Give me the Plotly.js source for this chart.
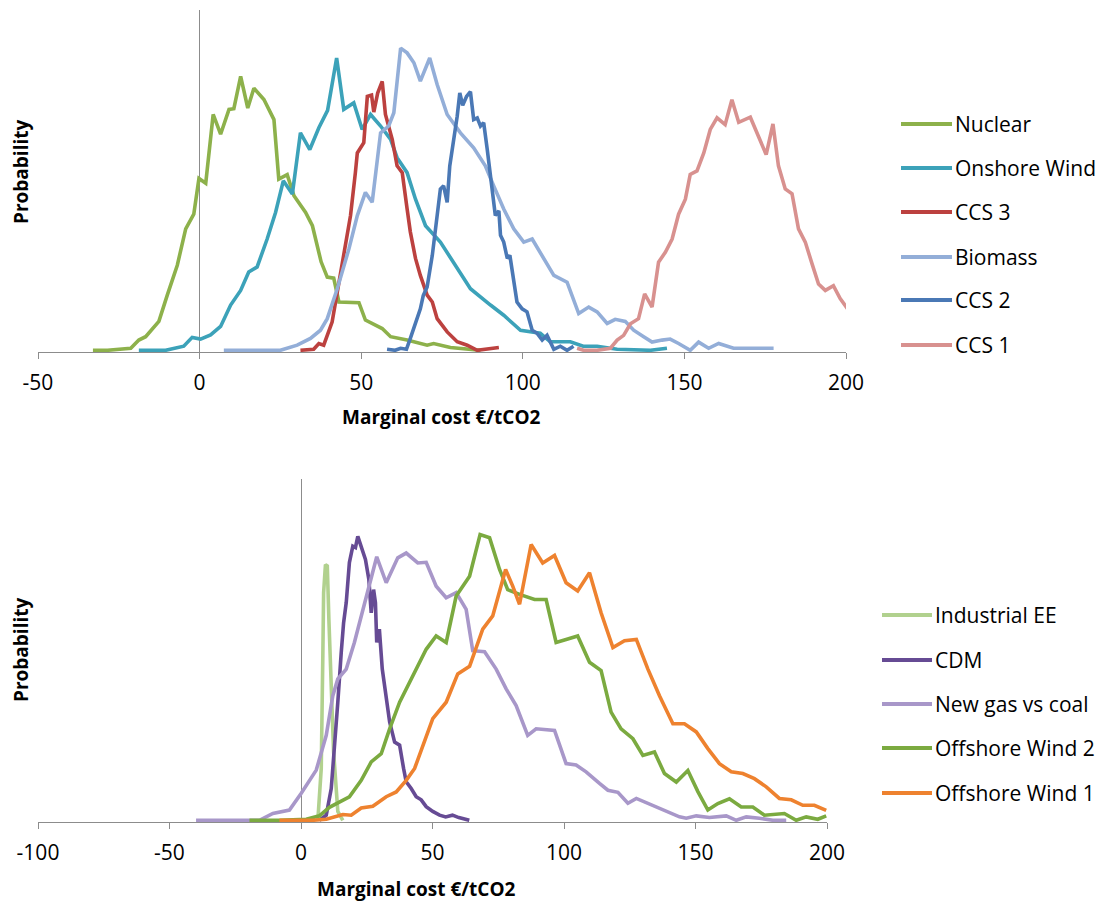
<!DOCTYPE html>
<html>
<head>
<meta charset="utf-8">
<script src="https://cdn.plot.ly/plotly-3.0.1.min.js"></script>
<style>html,body{margin:0;padding:0;background:#fff;}#chart{width:1102px;height:901px;}</style>
</head>
<body>
<div id="chart"></div>
<script>
// ---------- Top panel data (x = marginal cost €/tCO2, y = relative probability) ----------
const nuclearX = [-33,-28.5,-21.3,-18.8,-16.7,-12.6,-10,-6.9,-4.3,-1.8,-0.2,1.9,4.2,6.5,9.1,10.6,12.7,14.9,16.8,19.9,23,24.5,27.1,29.2,32.8,34.9,37.6,39.5,41.5,43.1,49.3,51.3,56.5,59.1,64.2,70.4,72.4,77.6,86.9];
const nuclearY = [0,0,0.06,0.3,0.4,0.85,1.62,2.5,3.57,4.0,5.05,4.91,6.93,6.35,7.08,7.1,8.05,7.12,7.7,7.37,6.78,5.03,5.16,4.54,4.05,3.66,2.6,2.15,2.12,1.42,1.4,0.89,0.64,0.4,0.3,0.15,0.2,0.08,0];

const onshoreX = [-18.8,-10.5,-4.9,-2.3,0.3,3.4,6.5,9.6,12.7,15.2,17.8,20.9,23.5,25.9,28.7,31.2,34.1,36.9,39.6,42.4,44.6,47.7,50.3,52.9,56,59.1,61.1,64.2,66.8,69.9,74.5,78.6,83.8,90,94.1,99.3,105.4,108.5,111.6,114.7,118.7,123,129.2,139.5,144.6];
const onshoreY = [0,0,0.12,0.38,0.33,0.45,0.7,1.33,1.76,2.3,2.45,3.27,4.05,4.98,4.59,6.39,5.9,6.54,7.05,8.59,7.08,7.27,6.49,6.93,6.59,6.2,5.66,5.22,4.44,3.66,3.18,2.59,1.81,1.33,1.03,0.59,0.5,0.25,0.25,0.25,0.12,0.12,0.03,0,0.06];

const ccs3X = [31.2,35.3,36.9,38.4,39.5,41,42.6,44.6,46.7,48.2,48.8,50.8,51.9,53.2,53.9,55.1,56.5,57.5,59.6,61.1,62.7,64.2,65.2,66.8,68.3,70.4,72,73.5,76.6,79.7,82.8,85.9,89,92.6];
const ccs3Y = [0,0.03,0.2,0.15,0.44,0.83,1.71,2.79,3.96,5.22,5.8,6.1,7.46,7.5,7.0,7.56,7.9,6.93,6.2,5.42,5.22,4.16,3.48,2.7,2.2,1.62,1.42,0.93,0.54,0.25,0.15,0,0.03,0.08];

const biomassX = [7.5,25,30.2,34.3,37.4,39.5,42.6,46.2,48.8,51.3,53.4,56,58.5,60.1,62.2,64.2,66.3,68.3,71.2,73.5,76.6,80.7,84.8,88.4,91,94.1,97.2,100.3,102.9,106.5,109.6,113.7,117.3,120.4,123,126.1,128.6,131.7,134.3,137.4,140,143.1,145.6,148.2,151.8,154.4,157.5,160.6,165.2,177.6];
const biomassY = [0,0,0.15,0.35,0.59,0.93,1.81,2.98,3.96,4.64,4.35,6.39,6.59,6.98,8.88,8.74,8.45,7.91,8.59,7.81,6.93,6.39,5.95,5.42,4.83,4.15,3.57,3.18,3.27,2.69,2.2,2.0,1.08,1.27,1.13,0.79,0.91,0.85,0.59,0.4,0.24,0.3,0.33,0.2,0,0.24,0.06,0.2,0.06,0.06];

const ccs2X = [58,60.5,62.2,64,65.2,66.8,68.3,69.2,70.4,72,73.5,74.5,75.5,76.6,77.4,78.6,79.7,80.5,81.4,82.6,83.8,84.8,85.9,86.9,87.9,89,90.5,91.5,92.6,93.1,94.1,95.2,96,97.2,98.2,99.8,101.3,102.9,104.4,106,107.5,109.6,111.6,113.7,115.7];
const ccs2Y = [0.03,0,0.06,0.03,0.35,0.79,1.22,1.61,1.86,2.79,3.96,4.74,4.83,4.35,5.42,6.1,6.88,7.56,7.2,7.46,7.6,6.78,6.83,6.59,6.69,5.9,4.74,3.96,4.1,3.38,3.18,2.7,2.79,2.0,1.42,1.22,1.13,0.59,0.5,0.3,0.44,0.03,0.12,0,0.12];

const ccs1X = [116.8,118.8,123,127.1,129.2,131.2,133.3,135.8,137.7,140,142,144.1,146.2,148.2,150.3,151.8,153.9,156,158,160.1,162.6,164.7,166.8,170.4,172.9,175.3,177.4,179.1,181.2,183.3,185.3,187.4,189.5,191.5,193.6,196.1,198.2,200.8];
const ccs1Y = [0.06,0,0,0.06,0.3,0.44,0.78,0.93,1.66,1.27,2.59,2.88,3.27,4.0,4.44,5.17,5.27,5.8,6.49,6.83,6.63,7.36,6.7,6.85,6.29,5.75,6.65,5.42,4.74,4.6,3.57,3.18,2.54,1.95,1.76,1.9,1.52,1.18];

// ---------- Bottom panel data ----------
const indEEX = [6.4,7.7,8.3,8.6,9.3,10,10.6,11.5,12.4,14,15.9];
const indEEY = [0,1.52,4.82,6.67,7.49,7.45,5.89,4.24,2.0,0.26,0];

const cdmX = [7,9.6,11.5,12.7,14,15.3,16.2,17.2,18.4,19.7,20.7,21.6,22.9,24.5,25.8,26.7,27.6,28.3,28.8,29.8,30.9,32.4,33.7,35.6,37.5,39,40,41.9,43.8,45.7,47.6,50.1,52.7,55,57.6,60,64];
const cdmY = [0,0.15,0.93,2.0,3.46,4.92,5.79,6.38,7.55,8.03,7.99,8.32,7.99,7.64,7.06,6.08,6.76,6.38,5.21,5.6,4.43,3.65,2.88,2.29,2.2,1.52,1.13,0.93,0.69,0.6,0.4,0.26,0.15,0.1,0.15,0.08,0];

const newGasX = [-39.9,-15.8,-10.7,-4.4,0.1,5.8,9.6,12.1,14,17.2,20.3,23.5,26.3,28.8,32.4,36.8,40,44.4,47.6,51.4,55.2,59,62.8,65.3,69.8,74.2,78,81.8,86.2,89.4,96.4,100.8,104.6,108.4,113.5,116.7,120.5,124.3,127.5,133.8,139.5,143.9,146.5,150.3,155.3,161.7,165.5,169.3,174.3,179.4,184.5];
const newGasY = [0,0,0.2,0.3,0.79,1.47,2.49,3.65,4.14,4.43,5.21,6.18,7.06,7.72,6.96,7.69,7.83,7.54,7.56,6.86,6.52,6.67,6.18,4.97,4.94,4.43,3.85,3.36,2.49,2.68,2.63,1.66,1.62,1.42,1.08,0.88,0.82,0.5,0.64,0.44,0.26,0.1,0.06,0.13,0.08,0.13,0,0.1,0.06,0,0];

const ow2X = [-19.6,-8.2,2,7,10.8,14.6,18.4,22.9,26.7,30.5,33.7,37.5,42.5,47.6,51.4,55.2,59,64.1,68.1,71.7,75.5,78.6,83.1,88.8,93.2,97,100.8,105.2,109.7,114.1,117.9,121.7,126.2,130,134.4,138.2,142.7,147.1,150.9,154.7,158.5,162.9,167.4,171.8,176.2,183.8,188.3,192.1,196.5,199.7];
const ow2Y = [0,0,0.03,0.13,0.38,0.55,0.69,1.17,1.71,1.95,2.68,3.46,4.24,5.01,5.4,5.21,6.57,7.15,8.37,8.28,7.35,6.76,6.62,6.47,6.47,5.21,5.3,5.4,4.63,4.39,3.17,2.68,2.39,1.9,2.0,1.37,1.12,1.46,0.84,0.3,0.49,0.63,0.39,0.39,0.15,0.2,0,0.1,0.03,0.13];

const ow1X = [-8.2,4.5,9.6,13.4,15.9,19.1,22.9,27.3,32.4,36.2,40,43.2,46.3,50.1,55.2,59.6,64.1,69.1,72.9,77.8,80.5,83.1,87.5,91.9,96.4,100.8,105.2,109.7,114.1,118.6,123,127.5,131.9,136.3,141.4,145.8,150.3,154.7,159.1,163.6,168,172.4,176.9,181.9,186.4,190.8,195.2,199.7];
const ow1Y = [0,0,0.03,0.13,0.17,0.15,0.36,0.41,0.69,0.83,1.17,1.52,2.2,2.98,3.46,4.29,4.51,5.6,5.99,7.35,6.86,6.33,8.08,7.54,7.76,6.96,6.72,7.25,6.08,5.06,5.26,5.3,4.43,3.65,2.83,2.83,2.59,2.1,1.66,1.42,1.37,1.22,0.98,0.64,0.6,0.44,0.44,0.29];

// ---------- Names / ticks ----------
const topNames = ["Nuclear","Onshore Wind","CCS 3","Biomass","CCS 2","CCS 1"];
const bottomNames = ["Industrial EE","CDM","New gas vs coal","Offshore Wind 2","Offshore Wind 1"];
const topTicks = [-50,0,50,100,150,200];
const bottomTicks = [-100,-50,0,50,100,150,200];
const xTitleText = "Marginal cost €/tCO2";
const yTitleText = "Probability";

// ---------- Styling ----------
const topColors = ["#8DB14B","#3CA2B9","#BC413F","#93AED8","#4A78B5","#D8918F"];
const bottomColors = ["#B1D18E","#664B94","#A897C9","#7BAA40","#EE822F"];
const FONT = "'Open Sans', Lato, 'Liberation Sans', sans-serif";
const W = 1102, H = 901;
const LW = 3.6;

const topData = [[nuclearX,nuclearY],[onshoreX,onshoreY],[ccs3X,ccs3Y],[biomassX,biomassY],[ccs2X,ccs2Y],[ccs1X,ccs1Y]];
const bottomData = [[indEEX,indEEY],[cdmX,cdmY],[newGasX,newGasY],[ow2X,ow2Y],[ow1X,ow1Y]];

const traces = [];
topData.forEach((d,i)=>traces.push({x:d[0],y:d[1],type:'scatter',mode:'lines',name:topNames[i],
  line:{color:topColors[i],width:LW},xaxis:'x',yaxis:'y',showlegend:false,hoverinfo:'x+name'}));
bottomData.forEach((d,i)=>traces.push({x:d[0],y:d[1],type:'scatter',mode:'lines',name:bottomNames[i],
  line:{color:bottomColors[i],width:LW},xaxis:'x2',yaxis:'y2',showlegend:false,hoverinfo:'x+name'}));

const px = v => v / W;
const py = v => 1 - v / H;

const axisColor = '#8C8C8C';
function xAxis(domain, range, ticks, anchor){
  return {domain:domain, range:range, anchor:anchor, tickvals:ticks, ticktext:ticks.map(String),
    showgrid:false, showline:true, linecolor:axisColor, linewidth:1,
    ticks:'outside', ticklen:6, tickcolor:axisColor, tickwidth:1,
    zeroline:true, zerolinecolor:axisColor, zerolinewidth:1,
    tickfont:{family:FONT,size:21,color:'#000'}, ticklabelstandoff:6, automargin:false, fixedrange:true};
}
function yAxis(domain, anchor){
  return {domain:domain, range:[-0.05,10], anchor:anchor, showgrid:false, showline:false, zeroline:false,
    showticklabels:false, ticks:'', automargin:false, fixedrange:true};
}

const shapes = [];
const annotations = [];
function addLegend(names, colors, x0, x1, tx, ys){
  names.forEach((n,i)=>{
    shapes.push({type:'line',xref:'paper',yref:'paper',x0:px(x0),x1:px(x1),y0:py(ys[i]),y1:py(ys[i]),
      line:{color:colors[i],width:4}});
    annotations.push({xref:'paper',yref:'paper',x:px(tx),y:py(ys[i]),xanchor:'left',yanchor:'middle',
      text:n,showarrow:false,font:{family:FONT,size:21,color:'#000'}});
  });
}
addLegend(topNames, topColors, 901, 952, 953, [124,168,212,257,300,345]);
addLegend(bottomNames, bottomColors, 882, 932, 933, [615,660,704,748,793]);

// axis titles
annotations.push({xref:'paper',yref:'paper',x:px(441),y:py(417),xanchor:'center',yanchor:'middle',
  text:'<b>'+xTitleText+'</b>',showarrow:false,font:{family:FONT,size:19,color:'#000'}});
annotations.push({xref:'paper',yref:'paper',x:px(416),y:py(889),xanchor:'center',yanchor:'middle',
  text:'<b>'+xTitleText+'</b>',showarrow:false,font:{family:FONT,size:19,color:'#000'}});
annotations.push({xref:'paper',yref:'paper',x:px(21),y:py(172),xanchor:'center',yanchor:'middle',textangle:-90,
  text:'<b>'+yTitleText+'</b>',showarrow:false,font:{family:FONT,size:19,color:'#000'}});
annotations.push({xref:'paper',yref:'paper',x:px(21),y:py(650),xanchor:'center',yanchor:'middle',textangle:-90,
  text:'<b>'+yTitleText+'</b>',showarrow:false,font:{family:FONT,size:19,color:'#000'}});

const layout = {
  width:W, height:H, margin:{l:0,r:0,t:0,b:0}, paper_bgcolor:'#fff', plot_bgcolor:'rgba(0,0,0,0)',
  showlegend:false, font:{family:FONT,color:'#000'},
  xaxis: xAxis([px(38),px(846)],[-50,200],topTicks,'y'),
  yaxis: yAxis([py(352),py(10)],'x'),
  xaxis2: xAxis([px(38),px(827)],[-100,200],bottomTicks,'y2'),
  yaxis2: yAxis([py(822),py(479)],'x2'),
  shapes:shapes, annotations:annotations
};

Plotly.newPlot('chart', traces, layout, {displayModeBar:false, staticPlot:true});
</script>
</body>
</html>
